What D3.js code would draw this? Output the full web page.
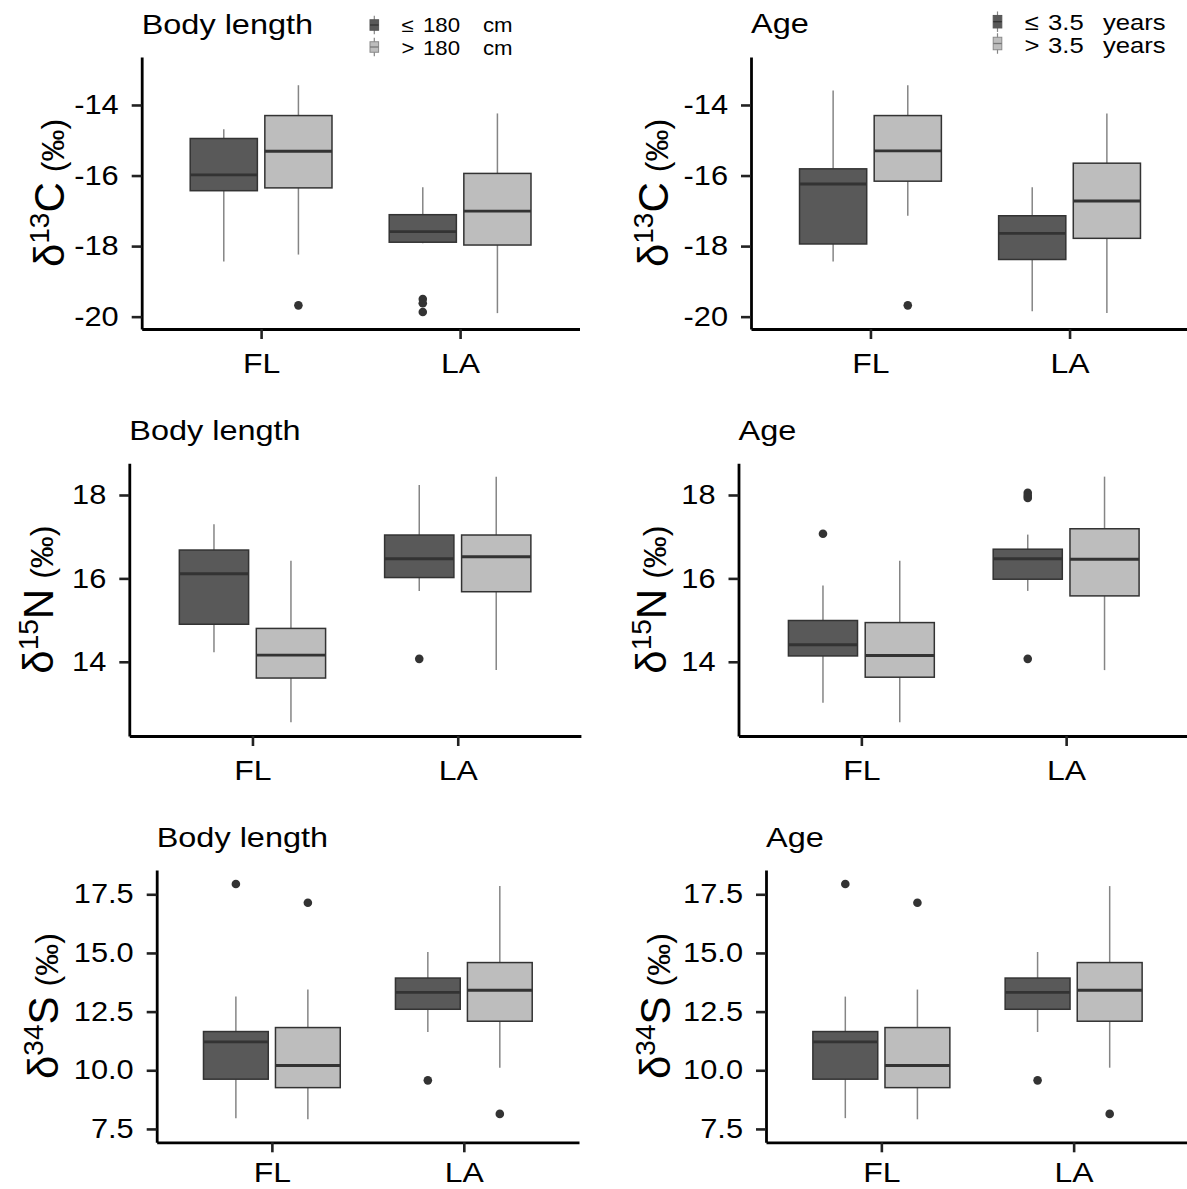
<!DOCTYPE html>
<html>
<head>
<meta charset="utf-8">
<script src="https://cdn.jsdelivr.net/npm/d3@7"></script>
<style>
  html, body { margin: 0; padding: 0; background: #fff; }
  svg { display: block; font-family: "Liberation Sans", Arial, sans-serif; }
</style>
</head>
<body>
<script>
// ---------------- DATA ----------------
const categories = ["FL", "LA"];
const lengthGroups = ["180", "180"];      // ≤180 cm, >180 cm
const ageGroups = ["3.5", "3.5"];         // ≤3.5 years, >3.5 years

// box stats per category: [lower whisker, Q1, median, Q3, upper whisker]
// δ13C by body length
const c13LenSmall = [[-18.44, -16.43, -15.98, -14.95, -14.69], [-17.92, -17.89, -17.59, -17.11, -16.33]];
const c13LenLarge = [[-18.24, -16.35, -15.31, -14.30, -13.44], [-19.90, -17.97, -17.01, -15.94, -14.24]];
const c13LenSmallOut = [[], [-19.50, -19.62, -19.87]];
const c13LenLargeOut = [[-19.68], []];
// δ13C by age
const c13AgeYoung = [[-18.44, -17.94, -16.24, -15.81, -13.59], [-19.85, -18.38, -17.64, -17.14, -16.33]];
const c13AgeOld = [[-17.14, -16.16, -15.30, -14.30, -13.44], [-19.90, -17.78, -16.72, -15.65, -14.24]];
const c13AgeYoungOut = [[], []];
const c13AgeOldOut = [[-19.68], []];
// δ15N by body length
const n15LenSmall = [[14.23, 14.90, 16.11, 16.68, 17.30], [15.70, 16.02, 16.47, 17.04, 18.24]];
const n15LenLarge = [[12.55, 13.61, 14.16, 14.80, 16.42], [13.80, 15.68, 16.52, 17.04, 18.44]];
const n15LenSmallOut = [[], [14.07]];
const n15LenLargeOut = [[], []];
// δ15N by age
const n15AgeYoung = [[13.02, 14.14, 14.41, 14.99, 15.83], [15.70, 15.98, 16.47, 16.70, 17.05]];
const n15AgeOld = [[12.55, 13.63, 14.15, 14.94, 16.42], [13.80, 15.58, 16.46, 17.19, 18.44]];
const n15AgeYoungOut = [[17.07], [18.05, 17.98, 17.93, 14.07]];
const n15AgeOldOut = [[], []];
// δ34S by body length
const s34LenSmall = [[7.96, 9.62, 11.21, 11.65, 13.14], [11.63, 12.60, 13.32, 13.93, 15.04]];
const s34LenLarge = [[7.91, 9.26, 10.20, 11.82, 13.44], [10.11, 12.09, 13.41, 14.59, 17.85]];
const s34LenSmallOut = [[17.94], [9.57]];
const s34LenLargeOut = [[17.14], [8.14]];
// δ34S by age
const s34AgeYoung = [[7.96, 9.62, 11.21, 11.65, 13.14], [11.63, 12.60, 13.32, 13.93, 15.04]];
const s34AgeOld = [[7.91, 9.26, 10.20, 11.82, 13.44], [10.11, 12.09, 13.41, 14.59, 17.85]];
const s34AgeYoungOut = [[17.94], [9.57]];
const s34AgeOldOut = [[17.14], [8.14]];

// axis ticks and limits
const ticksC = [-20, -18, -16, -14];
const ticksN = [14, 16, 18];
const ticksS = [7.5, 10.0, 12.5, 15.0, 17.5];
const limitsC = [-20.35, -12.64];
const limitsN = [12.22, 18.76];
const limitsS = [6.93, 18.535];

// ---------------- STYLE / LAYOUT ----------------
const W = 1187, H = 1189;
const FONT = "'Liberation Sans', Arial, sans-serif";
const SX = 1.14; // horizontal stretch of text seen in the figure
const darkFill = "#595959", lightFill = "#bdbdbd";
const lineCol = "#333333", whiskCol = "#858585";

const panels = [
  { title: "Body length", iso: "13", el: "C", ticks: ticksC, lim: limitsC, fmt: d => String(d),
    stats: [c13LenSmall, c13LenLarge], outs: [c13LenSmallOut, c13LenLargeOut],
    box: { left: 141.7, right: 579.5, top: 57, bottom: 329 }, titleY: 34, yTitleX: 64, xPad: 14 },
  { title: "Age", iso: "13", el: "C", ticks: ticksC, lim: limitsC, fmt: d => String(d),
    stats: [c13AgeYoung, c13AgeOld], outs: [c13AgeYoungOut, c13AgeOldOut],
    box: { left: 751, right: 1189, top: 57, bottom: 329 }, titleY: 33, yTitleX: 668, xPad: 14 },
  { title: "Body length", iso: "15", el: "N", ticks: ticksN, lim: limitsN, fmt: d => String(d),
    stats: [n15LenSmall, n15LenLarge], outs: [n15LenSmallOut, n15LenLargeOut],
    box: { left: 129.3, right: 580.9, top: 463.3, bottom: 736 }, titleY: 440, yTitleX: 53, xPad: 14 },
  { title: "Age", iso: "15", el: "N", ticks: ticksN, lim: limitsN, fmt: d => String(d),
    stats: [n15AgeYoung, n15AgeOld], outs: [n15AgeYoungOut, n15AgeOldOut],
    box: { left: 738.5, right: 1189, top: 463.3, bottom: 736 }, titleY: 440, yTitleX: 666, xPad: 14 },
  { title: "Body length", iso: "34", el: "S", ticks: ticksS, lim: limitsS, fmt: d3.format(".1f"),
    stats: [s34LenSmall, s34LenLarge], outs: [s34LenSmallOut, s34LenLargeOut],
    box: { left: 156.7, right: 579, top: 870, bottom: 1142.3 }, titleY: 846.7, yTitleX: 58, xPad: 10 },
  { title: "Age", iso: "34", el: "S", ticks: ticksS, lim: limitsS, fmt: d3.format(".1f"),
    stats: [s34AgeYoung, s34AgeOld], outs: [s34AgeYoungOut, s34AgeOldOut],
    box: { left: 766, right: 1189, top: 870, bottom: 1142.3 }, titleY: 846.7, yTitleX: 670, xPad: 10 }
];

const svg = d3.select("body").append("svg")
  .attr("width", W).attr("height", H)
  .attr("viewBox", `0 0 ${W} ${H}`);

function stretchText(sel) {
  sel.each(function () {
    const t = d3.select(this);
    const x = +(t.attr("x") || 0);
    t.attr("x", 0).attr("transform", `translate(${x},0) scale(${SX},1)`);
  });
}

panels.forEach((p, pi) => {
  const b = p.box;
  const g = svg.append("g");
  const x = d3.scalePoint().domain(categories).range([b.left, b.right]).padding(0.6);
  const y = d3.scaleLinear().domain(p.lim).range([b.bottom, b.top]);
  const step = x.step();
  const off = step * 0.1875, bw = step * 0.3375;
  const fills = [darkFill, lightFill];

  // boxes
  [0, 1].forEach(gi => {
    categories.forEach((c, ci) => {
      const s = p.stats[gi][ci];
      const cx = x(c) + (gi === 0 ? -off : off);
      const bg = g.append("g");
      // whiskers
      bg.append("line").attr("x1", cx).attr("x2", cx)
        .attr("y1", y(s[3])).attr("y2", y(s[4]))
        .attr("stroke", whiskCol).attr("stroke-width", 1.5);
      bg.append("line").attr("x1", cx).attr("x2", cx)
        .attr("y1", y(s[1])).attr("y2", y(s[0]))
        .attr("stroke", whiskCol).attr("stroke-width", 1.5);
      // box
      bg.append("rect").attr("x", cx - bw / 2).attr("width", bw)
        .attr("y", y(s[3])).attr("height", y(s[1]) - y(s[3]))
        .attr("fill", fills[gi]).attr("stroke", lineCol).attr("stroke-width", 1.5);
      // median
      bg.append("line").attr("x1", cx - bw / 2).attr("x2", cx + bw / 2)
        .attr("y1", y(s[2])).attr("y2", y(s[2]))
        .attr("stroke", lineCol).attr("stroke-width", 2.9);
      // outliers
      bg.selectAll("circle.o").data(p.outs[gi][ci]).enter().append("circle")
        .attr("cx", cx).attr("cy", d => y(d)).attr("r", 4.3)
        .attr("fill", lineCol);
    });
  });

  // axes
  const ax = g.append("g").attr("transform", `translate(${b.left},0)`)
    .call(d3.axisLeft(y).tickValues(p.ticks).tickFormat(p.fmt)
      .tickSize(10).tickPadding(13).tickSizeOuter(0));
  ax.select(".domain").attr("stroke", "#000").attr("stroke-width", 2.8);
  ax.selectAll(".tick line").attr("stroke", "#222").attr("stroke-width", 2.6);
  ax.selectAll(".tick text").attr("fill", "#000").style("font-size", "27px").style("font-family", FONT);
  stretchText(ax.selectAll(".tick text"));

  const bx = g.append("g").attr("transform", `translate(0,${b.bottom})`)
    .call(d3.axisBottom(x).tickSize(10).tickPadding(p.xPad).tickSizeOuter(0));
  bx.select(".domain").attr("stroke", "#000").attr("stroke-width", 2.8);
  bx.selectAll(".tick line").attr("stroke", "#222").attr("stroke-width", 2.6);
  bx.selectAll(".tick text").attr("fill", "#000").style("font-size", "28px").style("font-family", FONT);
  stretchText(bx.selectAll(".tick text"));

  // panel title
  g.append("text")
    .attr("transform", `translate(${b.left},${p.titleY}) scale(1.18,1)`)
    .style("font-size", "27.5px").style("font-family", FONT).attr("fill", "#000")
    .text(p.title);

  // y title: δ^iso El (‰)
  const cy = (b.top + b.bottom) / 2;
  const yt = g.append("text")
    .attr("transform", `translate(${p.yTitleX},${cy}) rotate(-90)`)
    .attr("text-anchor", "middle").attr("fill", "#000")
    .style("font-family", FONT);
  yt.append("tspan").style("font-size", "42px").text("δ");
  yt.append("tspan").style("font-size", "28px").attr("dy", -15).text(p.iso);
  yt.append("tspan").style("font-size", "42px").attr("dy", 15).text(p.el);
  yt.append("tspan").style("font-size", "32px").attr("dx", 10).text("(‰)");
});

// ---------------- LEGENDS ----------------
function legend(keyX, rows, texts, size, boxH) {
  const g = svg.append("g");
  rows.forEach((r, i) => {
    const fill = i === 0 ? darkFill : lightFill;
    g.append("line").attr("x1", keyX).attr("x2", keyX)
      .attr("y1", r.cy - boxH / 2 - 4).attr("y2", r.cy + boxH / 2 + 4)
      .attr("stroke", whiskCol).attr("stroke-width", 1.2);
    g.append("rect").attr("x", keyX - 4.3).attr("width", 8.6)
      .attr("y", r.cy - boxH / 2).attr("height", boxH)
      .attr("fill", fill).attr("stroke", i === 0 ? "#555" : "#8a8a8a").attr("stroke-width", 1);
    g.append("line").attr("x1", keyX - 4.3).attr("x2", keyX + 4.3)
      .attr("y1", r.cy).attr("y2", r.cy)
      .attr("stroke", i === 0 ? "#333" : "#777").attr("stroke-width", 1.3);
    texts[i].forEach(t => {
      g.append("text")
        .attr("transform", `translate(${t.x},${r.base}) scale(${SX},1)`)
        .style("font-size", size + "px").style("font-family", FONT).attr("fill", "#000")
        .text(t.s);
    });
  });
}

legend(374.3,
  [{ cy: 25, base: 32 }, { cy: 47, base: 54.5 }],
  [[{ x: 401.5, s: "≤" }, { x: 423, s: lengthGroups[0] }, { x: 483, s: "cm" }],
   [{ x: 401.5, s: ">" }, { x: 423, s: lengthGroups[1] }, { x: 483, s: "cm" }]],
  19.5, 10.5);

legend(997.5,
  [{ cy: 21.7, base: 30 }, { cy: 43.5, base: 53 }],
  [[{ x: 1024.5, s: "≤" }, { x: 1048, s: ageGroups[0] }, { x: 1103, s: "years" }],
   [{ x: 1024.5, s: ">" }, { x: 1048, s: ageGroups[1] }, { x: 1103, s: "years" }]],
  22.5, 12.5);
</script>
</body>
</html>
